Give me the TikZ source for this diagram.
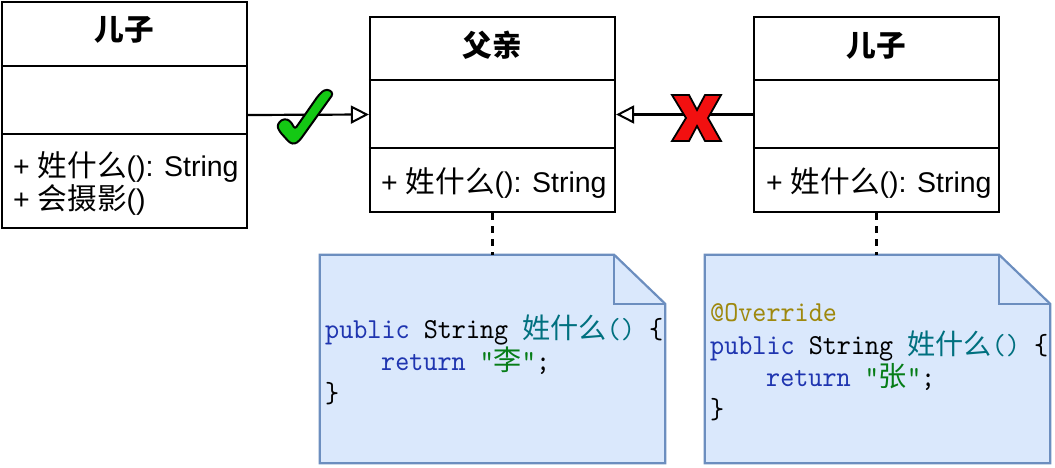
\documentclass[tikz,border=0pt]{standalone}
\usepackage{fontspec}
\setmainfont{Liberation Sans}
\newfontfamily\cjk{Noto Sans CJK SC}[Scale=1.04]
\newfontfamily\cjkcode{Noto Sans CJK SC}[Scale=0.97]
\newfontfamily\codefont{lmmono10-regular}[Extension=.otf, FakeStretch=0.925]
\usetikzlibrary{arrows.meta}
\definecolor{notefill}{HTML}{DAE8FC}
\definecolor{notedraw}{HTML}{6C8EBF}
\definecolor{kwblue}{HTML}{1F35B0}
\definecolor{fnteal}{HTML}{00707F}
\definecolor{strgreen}{HTML}{067D17}
\definecolor{annot}{HTML}{9E880D}
\definecolor{okgreen}{HTML}{14C814}
\definecolor{nored}{HTML}{F21010}
\newcommand{\zh}[1]{{\cjk #1}}
\newcommand{\kw}[1]{\textcolor{kwblue}{#1}}
\newcommand{\fn}[1]{\textcolor{fnteal}{#1}}
\newcommand{\st}[1]{\textcolor{strgreen}{#1}}
\begin{document}
\begin{tikzpicture}[x=1pt,y=-1pt,
  classbox/.style={draw=black, line width=2.2pt, fill=white, inner sep=0pt, minimum width=245pt},
  divider/.style={draw=black, line width=2.2pt},
  inherit/.style={draw=black, line width=2.2pt, -{Triangle[open, length=18pt, width=18pt, line width=2pt]}},
  notebox/.style={draw=notedraw, fill=notefill, line width=2.2pt, line join=miter},
  notearea/.style={inner sep=0pt, minimum width=345pt, minimum height=208pt},
  noteline/.style={draw=black, line width=2.2pt, dash pattern=on 7pt off 6pt},
  title/.style={anchor=base, inner sep=0pt, font=\fontsize{28.5}{32}\selectfont\cjk\bfseries},
  member/.style={anchor=base west, inner sep=0pt, font=\fontsize{28.5}{32}\selectfont},
  code/.style={anchor=base west, inner sep=0pt, font=\fontsize{29}{32}\selectfont\codefont},
  okmark/.style={fill=okgreen, draw=black, line width=2pt, line join=round, rounded corners=2.5pt},
  nomark/.style={fill=nored, draw=black, line width=1.8pt, line join=miter}
]
\useasboundingbox (0,0) rectangle (1055,468);

% ---- class boxes
\node[classbox, minimum height=226pt] (sonA) at (124.5,115) {};
\node[classbox, minimum height=195pt] (father) at (492.5,114.5) {};
\node[classbox, minimum height=195pt] (sonB) at (876.5,114.5) {};

\draw[divider] (sonA.west |- 0,66) -- (sonA.east |- 0,66);
\draw[divider] (sonA.west |- 0,134) -- (sonA.east |- 0,134);
\draw[divider] (father.west |- 0,80) -- (father.east |- 0,80);
\draw[divider] (father.west |- 0,148) -- (father.east |- 0,148);
\draw[divider] (sonB.west |- 0,80) -- (sonB.east |- 0,80);
\draw[divider] (sonB.west |- 0,148) -- (sonB.east |- 0,148);

\node[title] (sonAt) at (124.5,41) {儿子};
\node[title] (fathert) at (492.5,57) {父亲};
\node[title] (sonBt) at (876.5,57) {儿子};

\node[member] (sonAm1) at (13,176) {+ \zh{姓什么}(): String};
\node[member] (sonAm2) at (13,209) {+ \zh{会摄影}()};
\node[member] (fatherm1) at (381,193) {+ \zh{姓什么}(): String};
\node[member] (sonBm1) at (766,193) {+ \zh{姓什么}(): String};

% ---- inheritance arrows
\draw[inherit] (sonA.east) -- (father.west);
\draw[inherit] (sonB.west) -- (father.east);

% check mark
\path[okmark] (277,126) -- (281,120) -- (287,119) -- (291,122) -- (295,129) -- (318,96) -- (324,90) -- (330,90) -- (333,94) -- (300,140) -- (295,144) -- (290,143) -- (280,132) -- cycle;
% cross
\path[nomark] (672,95) -- (689,95) -- (697,110) -- (705,95) -- (721,95) -- (708,118) -- (721,141) -- (705,141) -- (697,126) -- (689,141) -- (672,141) -- (686,118) -- cycle;

% ---- notes
\node[notearea] (note1) at (492.5,359) {};
\node[notearea] (note2) at (877.5,359) {};
\foreach \n in {note1,note2}{
  \path[notebox] (\n.north west) -- ([xshift=-51pt]\n.north east) -- ([yshift=-49pt]\n.north east) -- (\n.south east) -- (\n.south west) -- cycle;
  \draw[notebox, fill=none] ([xshift=-51pt]\n.north east) -- ([xshift=-51pt, yshift=-49pt]\n.north east) -- ([yshift=-49pt]\n.north east);
}
\draw[noteline] (father.south) -- (note1.north);
\draw[noteline] (sonB.south) -- (sonB.south |- note2.north);

% ---- code in note 1
\node[code] (c1a) at (325,338) {\kw{public} String \fn{{\cjkcode 姓什么}()} \{};
\node[code] (c1b) at (381,370) {\kw{return} \st{"{\cjkcode 李}"};};
\node[code] (c1c) at (325,402) {\}};

% ---- code in note 2
\node[code] (c2a) at (710,321) {\textcolor{annot}{@Override}};
\node[code] (c2b) at (710,354) {\kw{public} String \fn{{\cjkcode 姓什么}()} \{};
\node[code] (c2c) at (766,386) {\kw{return} \st{"{\cjkcode 张}"};};
\node[code] (c2d) at (710,418) {\}};
\end{tikzpicture}
\end{document}
